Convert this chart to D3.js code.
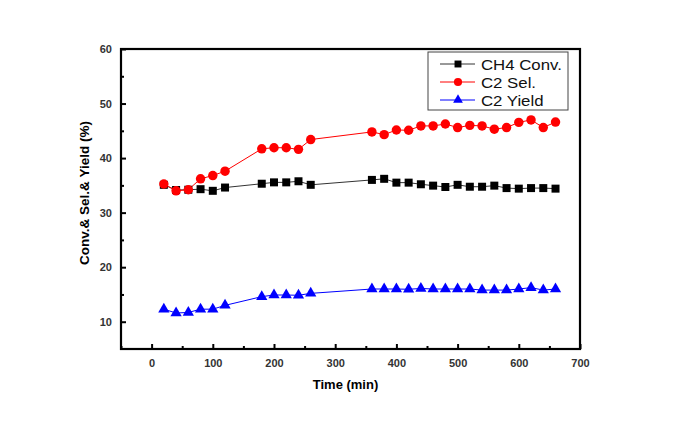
<!DOCTYPE html>
<html><head><meta charset="utf-8">
<script src="https://cdn.jsdelivr.net/npm/d3@7"></script>
<style>body{margin:0;background:#fff}svg{display:block}</style>
</head><body>
<svg id="c" width="675" height="421"></svg>
<script>
const timeMin = [20,40,60,80,100,120,180,200,220,240,260,360,380,400,420,440,460,480,500,520,540,560,580,600,620,640,660];
const ch4Conv = [35.1,34.15,34.2,34.3,34.0,34.6,35.3,35.55,35.55,35.75,35.1,36.0,36.2,35.5,35.5,35.2,34.95,34.7,35.1,34.75,34.75,34.95,34.5,34.4,34.5,34.5,34.4];
const c2Sel = [35.25,34.0,34.2,36.2,36.8,37.6,41.7,41.9,41.9,41.6,43.4,44.8,44.3,45.15,45.1,45.9,45.9,46.25,45.6,46.0,45.9,45.3,45.6,46.55,47.0,45.6,46.6];
const c2Yield = [12.3,11.6,11.7,12.3,12.3,13.0,14.6,14.9,14.9,14.85,15.2,16.0,16.0,16.0,15.95,16.1,16.0,16.0,16.0,16.0,15.8,15.8,15.8,16.0,16.25,15.8,16.0];
const xTicks = [0,100,200,300,400,500,600,700];
const yTicks = [10,20,30,40,50,60];
const seriesNames = ["CH4 Conv.","C2 Sel.","C2 Yield"];

const svg = d3.select("#c");
const L=121, R=580, T=49, B=349;
const x = d3.scaleLinear().domain([-50,700]).range([L,R]);
const y = d3.scaleLinear().domain([5,60]).range([B,T]);

const series = [
  {name:seriesNames[0], vals:ch4Conv, color:"#000", line:"#333", sym:d3.symbolSquare, size:64},
  {name:seriesNames[1], vals:c2Sel, color:"#f00", line:"#f00", sym:d3.symbolCircle, size:70},
  {name:seriesNames[2], vals:c2Yield, color:"#00f", line:"#00f", sym:d3.symbolTriangle, size:55}
];

const font = "Liberation Sans, Arial, sans-serif";
// x axis
const xAx = d3.axisBottom(x).tickValues(d3.range(-50,701,50)).tickSize(0).tickFormat(d=>xTicks.includes(d)?d:"");
const gx = svg.append("g").attr("transform",`translate(0,${B})`).call(xAx);
gx.select(".domain").remove();
gx.selectAll(".tick").append("line").attr("y1",0).attr("y2",d=>xTicks.includes(d)?-5:-3).attr("stroke","#000").attr("stroke-width",2);
gx.selectAll(".tick text").attr("dy","1.35em").style("font-family",font).style("font-weight","bold").style("font-size","11px").attr("fill","#333");
// y axis
const yAx = d3.axisLeft(y).tickValues(d3.range(10,61,5)).tickSize(0).tickPadding(9).tickFormat(d=>yTicks.includes(d)?d:"");
const gy = svg.append("g").attr("transform",`translate(${L},0)`).call(yAx);
gy.select(".domain").remove();
gy.selectAll(".tick").append("line").attr("x1",0).attr("x2",d=>yTicks.includes(d)?5:3).attr("stroke","#000").attr("stroke-width",2);
gy.selectAll(".tick text").style("font-family",font).style("font-weight","bold").style("font-size","11px").attr("fill","#333");

// frame
svg.append("rect").attr("x",L).attr("y",T).attr("width",R-L).attr("height",B-T).attr("fill","none").attr("stroke","#000").attr("stroke-width",2.2);

// series
series.forEach(s=>{
  const pts = timeMin.map((t,i)=>[t,s.vals[i]]);
  svg.append("path").datum(pts).attr("fill","none").attr("stroke",s.line).attr("stroke-width",1)
    .attr("d",d3.line().x(d=>x(d[0])).y(d=>y(d[1])));
});
series.forEach(s=>{
  svg.append("g").selectAll("path").data(timeMin.map((t,i)=>[t,s.vals[i]])).join("path")
    .attr("d",d3.symbol().type(s.sym).size(s.size))
    .attr("transform",d=>`translate(${x(d[0])},${y(d[1])})`).attr("fill",s.color);
});

// legend
const lg = svg.append("g").attr("transform","translate(428,52)");
lg.append("rect").attr("width",140).attr("height",58).attr("fill","#fff").attr("stroke","#444").attr("stroke-width",1);
series.forEach((s,i)=>{
  const yy = 12+i*18;
  lg.append("line").attr("x1",12).attr("x2",47).attr("y1",yy).attr("y2",yy).attr("stroke",s.line).attr("stroke-width",1);
  lg.append("path").attr("d",d3.symbol().type(s.sym).size(s.size*0.75)).attr("transform",`translate(30,${yy})`).attr("fill",s.color);
  lg.append("text").attr("transform",`translate(53,${yy+5.5}) scale(1.12,1)`).text(s.name).style("font-family",font).style("font-size","15px").attr("fill","#111");
});

// titles
svg.append("text").attr("x",(L+R)/2-5).attr("y",389).attr("text-anchor","middle").text("Time (min)")
  .style("font-family",font).style("font-weight","bold").style("font-size","13px");
svg.append("text").attr("transform",`translate(89,${(T+B)/2-6}) rotate(-90)`).attr("text-anchor","middle").text("Conv.& Sel.& Yield (%)")
  .style("font-family",font).style("font-weight","bold").style("font-size","13.5px");
</script>
</body></html>
